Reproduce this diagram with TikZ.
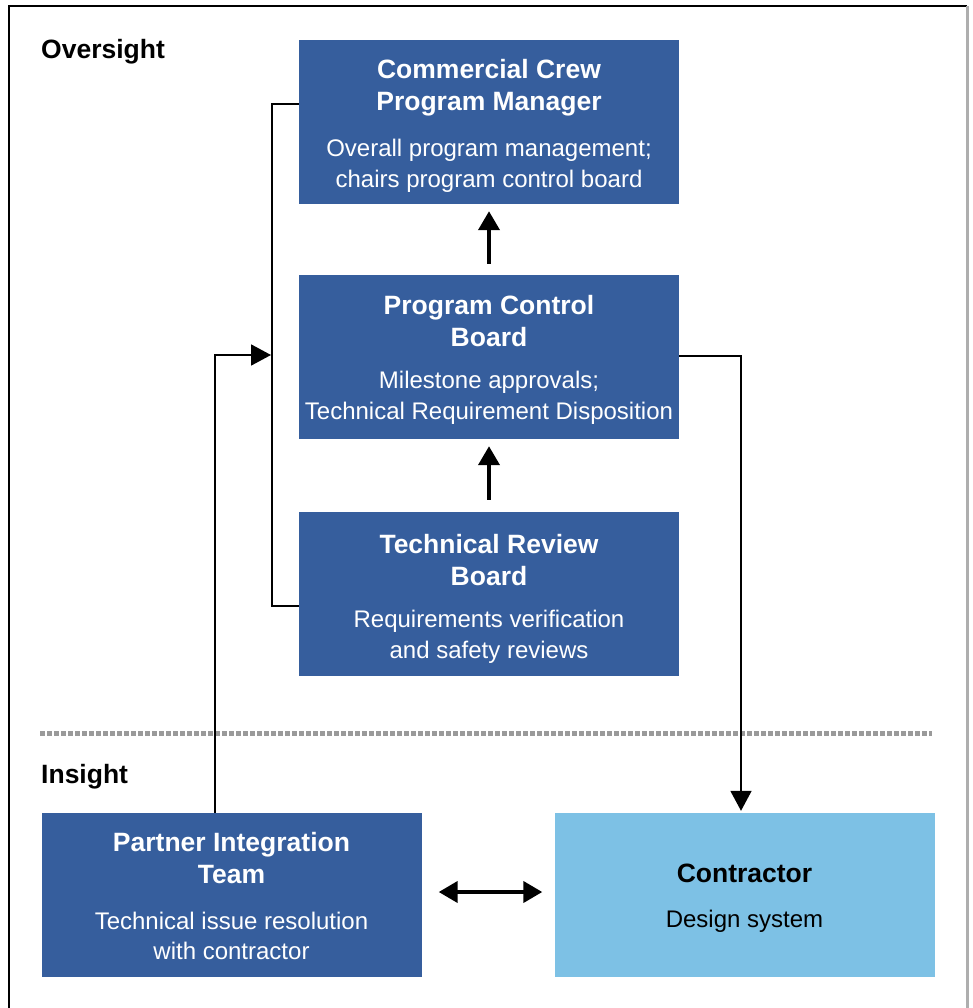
\documentclass[tikz,border=0pt]{standalone}
\usepackage{fontspec}
\setmainfont{Liberation Sans}
\usetikzlibrary{arrows.meta,calc}
\definecolor{darkbox}{HTML}{365E9D}
\definecolor{lightbox}{HTML}{7DC1E5}
\definecolor{sepgray}{HTML}{9A9A9A}
\tikzset{
  box/.style={draw=none, minimum width=380pt, minimum height=164pt, inner sep=0pt},
  darkbx/.style={box, fill=darkbox},
  lightbx/.style={box, fill=lightbox},
  ttl/.style={font=\bfseries\fontsize{26.5}{31.5}\selectfont, align=center, inner sep=0pt},
  bdy/.style={font=\fontsize{24}{30.5}\selectfont, align=center, inner sep=0pt},
  thick arrow/.style={line width=4pt, -{Triangle[length=19pt,width=21pt]}},
  thin arrow/.style={line width=1.8pt, -{Triangle[length=20pt,width=21pt]}},
  thin line/.style={line width=1.8pt},
}
\begin{document}
\begin{tikzpicture}[x=1pt,y=-1pt]
\useasboundingbox (0,0) rectangle (972,1008);
% frame
\draw[line width=2pt, black] (9,1010) -- (9,6) -- (967,6);
\draw[line width=3pt, sepgray!80] (967,6) -- (967,1010);

% section labels
\node[ttl, anchor=west] (over) at (41,52) {Oversight};
\node[ttl, anchor=west] (ins) at (41,777) {Insight};

% separator
\draw[line width=5pt, sepgray, dash pattern=on 4.5pt off 2.5pt] (40,733) -- (932,733);

% boxes
\node[darkbx] (ccpm) at (489,122) {};
\node[darkbx] (pcb) at (489,357) {};
\node[darkbx] (trb) at (489,594) {};
\node[darkbx] (pit) at (231.5,895) {};
\node[lightbx] (con) at (744.5,895) {};

% texts
\node[ttl, white] (ccpmT) at ($(ccpm.north)+(0,48)$) {Commercial Crew\\Program Manager};
\node[bdy, white] (ccpmB) at ($(ccpm.north)+(0,126)$) {Overall program management;\\chairs program control board};
\node[ttl, white] (pcbT) at ($(pcb.north)+(0,46)$) {Program Control\\Board};
\node[bdy, white] (pcbB) at ($(pcb.north)+(0,123)$) {Milestone approvals;\\Technical Requirement Disposition};
\node[ttl, white] (trbT) at ($(trb.north)+(0,48)$) {Technical Review\\Board};
\node[bdy, white] (trbB) at ($(trb.north)+(0,125)$) {Requirements verification\\and safety reviews};
\node[ttl, white] (pitT) at ($(pit.north)+(0,45)$) {Partner Integration\\Team};
\node[bdy, white] (pitB) at ($(pit.north)+(0,123)$) {Technical issue resolution\\with contractor};
\node[ttl, black] (conT) at ($(con.north)+(0,61)$) {Contractor};
\node[bdy, black] (conB) at ($(con.north)+(0,108)$) {Design system};

% vertical thick arrows
\draw[thick arrow] ($(pcb.north)+(0,-11)$) -- ($(ccpm.south)+(0,7)$);
\draw[thick arrow] ($(trb.north)+(0,-12)$) -- ($(pcb.south)+(0,7)$);

% bracket on the left
\coordinate (bx) at (272,0);
\coordinate (bt) at ($(ccpm.west)+(0,-18)$);
\coordinate (bb) at ($(trb.west)+(0,12)$);
\draw[thin line] (bt) -- (bx |- bt) -- (bx |- bb) -- (bb);

% PIT to bracket
\coordinate (pitx) at (215,0);
\coordinate (bracketpt) at (271,355);
\draw[thin arrow] (pitx |- pit.north) -- (pitx |- bracketpt) -- (bracketpt);

% PCB to contractor
\coordinate (conx) at (741,0);
\coordinate (pcbr) at ($(pcb.east)+(0,-1)$);
\draw[thin arrow] (pcbr) -- (conx |- pcbr) -- ($(conx |- con.north)+(0,-2)$);

% double arrow
\draw[line width=4pt, {Triangle[length=19pt,width=21pt]}-{Triangle[length=19pt,width=21pt]}] ($(pit.east)+(17,-3)$) -- ($(con.west)+(-12,-3)$);
\end{tikzpicture}
\end{document}
